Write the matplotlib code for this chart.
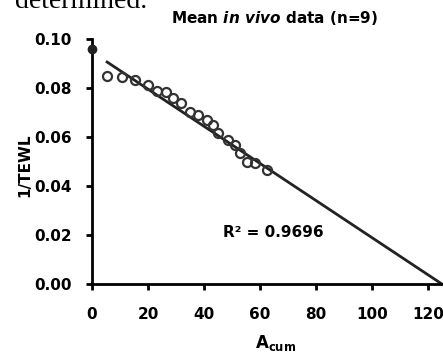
import numpy as np
import matplotlib
matplotlib.use("Agg")
import matplotlib.pyplot as plt

plt.rcParams['font.family'] = ['DejaVu Sans']
plt.rcParams['font.weight'] = 'bold'
plt.rcParams['mathtext.fontset'] = 'custom'
plt.rcParams['mathtext.it'] = 'DejaVu Sans:bold:italic'
plt.rcParams['mathtext.bf'] = 'DejaVu Sans:bold'
plt.rcParams['mathtext.rm'] = 'DejaVu Sans:bold'

# mean in vivo data
a_cum = [5.4, 10.7, 15.4, 20.0, 23.2, 26.4, 28.9, 31.8, 35.0, 37.9,
         41.1, 43.2, 45.0, 48.6, 51.1, 52.9, 55.4, 58.2, 62.5]
inv_tewl = [0.0849, 0.0845, 0.0832, 0.0812, 0.0787, 0.0783, 0.0759, 0.0738, 0.0702, 0.0690,
            0.0669, 0.0649, 0.0616, 0.0588, 0.0567, 0.0534, 0.0498, 0.0494, 0.0465]
first_x = [0.0]
first_y = [0.096]

# linear trendline end points
fit_x = [5.4, 125.0]
fit_y = [0.0906, 0.0]
r2_text = "R² = 0.9696"

xticks = [0, 20, 40, 60, 80, 100, 120]
yticks = [0.00, 0.02, 0.04, 0.06, 0.08, 0.10]

fig = plt.figure(figsize=(4.43, 3.52), dpi=100)
ax = fig.add_axes([92 / 443, 68 / 352, 351 / 443, 245 / 352])

ax.plot(fit_x, fit_y, color='#222222', lw=2, zorder=2)
ax.plot(a_cum, inv_tewl, 'o', mfc='none', mec='#333333', mew=1.6, ms=6.5, zorder=3)
ax.plot(first_x, first_y, 'o', color='#222222', ms=6, clip_on=False, zorder=4)

ax.set_xlim(0, 125.4)
ax.set_ylim(0, 0.10)
ax.set_xticks(xticks)
ax.set_yticks(yticks)
ax.set_yticklabels([f"{v:.2f}" for v in yticks])
for s in ['top', 'right']:
    ax.spines[s].set_visible(False)
for s in ['left', 'bottom']:
    ax.spines[s].set_linewidth(2)
ax.tick_params(direction='out', length=4.5, width=2, labelsize=11)
ax.tick_params(axis='y', pad=10)
ax.tick_params(axis='x', pad=12)

ax.text(46.8, 0.0212, r2_text, fontsize=11, fontweight='bold', va='center', ha='left')

ax.set_ylabel("1/TEWL", fontsize=11, fontweight='bold')
ax.yaxis.set_label_coords(-0.171, 0.486)
ax.set_xlabel(r"$\mathbf{A}_{\mathbf{cum}}$", fontsize=12)
ax.xaxis.set_label_coords(0.524, -0.2)

fig.text(275 / 443, 1 - 18 / 352, r"Mean $\it{in\ vivo}$ data (n=9)", ha='center', va='center',
         fontsize=11, fontweight='bold')
fig.text(15 / 443, 1 - 8 / 352, "determined.", family='Liberation Serif', fontweight='normal',
         fontsize=20, ha='left', va='baseline')

fig.savefig("out.png", dpi=100)
